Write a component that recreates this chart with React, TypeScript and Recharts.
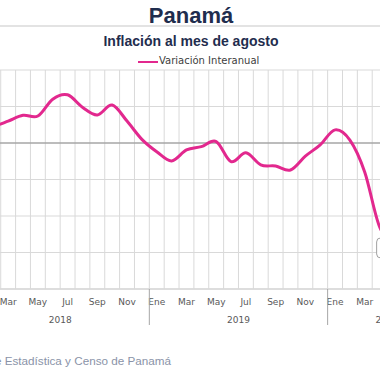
import React from 'react';
import { LineChart, Line, XAxis, YAxis, CartesianGrid, ReferenceLine, LabelList } from 'recharts';

const monthNames = ['Ene', 'Feb', 'Mar', 'Abr', 'May', 'Jun', 'Jul', 'Ago', 'Sep', 'Oct', 'Nov', 'Dic'];
const years = [
  { label: '2018', start: 0, end: 12 },
  { label: '2019', start: 12, end: 24 },
  { label: '2020', start: 24, end: 32 },
];
const values = [
  0.35, 0.45, 0.6, 0.76, 0.74, 1.2, 1.32, 0.98, 0.77, 1.04, 0.6, 0.1,
  -0.24, -0.49, -0.19, -0.1, 0.04, -0.51, -0.27, -0.6, -0.63, -0.74, -0.36, -0.05,
  0.36, 0.08, -0.8, -2.3, -2.7, -2.8, -2.6, -2.4,
];
const yTicks = [-4, -3, -2, -1, 0, 1, 2];
const labelledIndex = 27;

const data = values.map((v, i) => ({ pos: i + 0.5, v }));
const boundaries = Array.from({ length: 33 }, (_, i) => i);

const CHART_W = 486;
const MARGIN_R = 10.5;
const PLOT_W = CHART_W - MARGIN_R;
const BW = PLOT_W / 32;
const TXT = '#595959';
const FONT = '"DejaVu Sans", Verdana, sans-serif';

// Excel-like smoothed line (Catmull-Rom style Bezier through each point)
function smoothCurve(context: any) {
  let pts: number[][] = [];
  return {
    areaStart() {},
    areaEnd() {},
    lineStart() {
      pts = [];
    },
    point(x: number, y: number) {
      pts.push([+x, +y]);
    },
    lineEnd() {
      if (!pts.length) return;
      context.moveTo(pts[0][0], pts[0][1]);
      for (let i = 0; i < pts.length - 1; i++) {
        const p0 = pts[i - 1] || pts[i];
        const p1 = pts[i];
        const p2 = pts[i + 1];
        const p3 = pts[i + 2] || p2;
        const c1x = p1[0] + (p2[0] - p0[0]) / 6;
        const c1y = p1[1] + (p2[1] - p0[1]) / 6;
        const c2x = p2[0] - (p3[0] - p1[0]) / 6;
        const c2y = p2[1] - (p3[1] - p1[1]) / 6;
        context.bezierCurveTo(c1x, c1y, c2x, c2y, p2[0], p2[1]);
      }
    },
  };
}

const AxisTick = (props: any) => {
  const { x, y, payload } = props;
  const i = payload.value as number;
  const els: React.ReactNode[] = [];
  if (i < 32 && i % 2 === 0) {
    els.push(
      <text key="m" x={x + BW / 2} y={y + 16} textAnchor="middle" fontSize={9} fill={TXT} fontFamily={FONT}>
        {monthNames[i % 12]}
      </text>
    );
  }
  if (i % 12 === 0 && i < 32) {
    els.push(<line key="s" x1={x} x2={x} y1={y} y2={y + 36} stroke="#a6a6a6" strokeWidth={1} />);
  }
  years.forEach((yr) => {
    if ((yr.start + yr.end) / 2 === i) {
      els.push(
        <text key={'y' + yr.label} x={x} y={y + 34} textAnchor="middle" fontSize={9} fill={TXT} fontFamily={FONT}>
          {yr.label}
        </text>
      );
    }
  });
  return <g>{els}</g>;
};

const DataLabel = (props: any) => {
  const { x, y, index, value } = props;
  if (index !== labelledIndex) return null;
  return (
    <g>
      <rect x={x - 3} y={y + 11} width={34} height={20} rx={4} fill="#fff" stroke="#a0a0a0" strokeWidth={1} />
      <text x={x + 14} y={y + 25} textAnchor="middle" fontSize={9} fill={TXT} fontFamily={FONT}>
        {String(value).replace('.', ',')}
      </text>
    </g>
  );
};

export default function App() {
  return (
    <div style={{ position: 'absolute', left: 0, top: 0, width: 380, height: 380, overflow: 'hidden', background: '#fff' }}>
      <div
        style={{
          position: 'absolute', left: 0, top: 3, width: 382, textAlign: 'center',
          fontFamily: '"Liberation Sans", Arial, sans-serif', fontWeight: 'bold', fontSize: 22, color: '#1f2d4e', lineHeight: '26px',
        }}
      >
        Panamá
      </div>
      <div style={{ position: 'absolute', left: 0, top: 25, width: 380, height: 2, background: '#e3e3e3' }} />
      <div
        style={{
          position: 'absolute', left: 0, top: 32, width: 382, textAlign: 'center',
          fontFamily: '"Liberation Sans", Arial, sans-serif', fontWeight: 'bold', fontSize: 14, color: '#1f2d4e', lineHeight: '18px',
        }}
      >
        Inflación al mes de agosto
      </div>
      <div style={{ position: 'absolute', left: 138, top: 60.5, width: 20, height: 2.5, background: '#e2288e' }} />
      <div
        style={{
          position: 'absolute', left: 159, top: 55, fontFamily: FONT, fontSize: 10, color: '#404040', lineHeight: '12px', whiteSpace: 'nowrap',
        }}
      >
        Variación Interanual
      </div>
      <div style={{ position: 'absolute', left: -29.3, top: 0 }}>
        <LineChart width={CHART_W} height={334} data={data} margin={{ top: 70, right: MARGIN_R, bottom: 0, left: 0 }}>
          <CartesianGrid stroke="#d9d9d9" strokeWidth={1} />
          <XAxis
            type="number"
            dataKey="pos"
            domain={[0, 32]}
            ticks={boundaries}
            interval={0}
            height={45}
            tickSize={0}
            tickMargin={0}
            tickLine={false}
            axisLine={{ stroke: '#d9d9d9', strokeWidth: 1.5 }}
            tick={<AxisTick />}
            allowDataOverflow
          />
          <YAxis hide type="number" domain={[-4, 2]} ticks={yTicks} />
          <ReferenceLine y={0} stroke="#8c8c8c" strokeWidth={1} />
          <Line
            type={smoothCurve as any}
            dataKey="v"
            stroke="#e2288e"
            strokeWidth={3}
            dot={false}
            isAnimationActive={false}
          >
            <LabelList dataKey="v" content={<DataLabel />} />
          </Line>
        </LineChart>
      </div>
      <div
        style={{
          position: 'absolute', right: 209, top: 353, fontFamily: '"Liberation Sans", Arial, sans-serif', fontSize: 11.7,
          color: '#8a93a8', whiteSpace: 'nowrap', lineHeight: '15px',
        }}
      >
        Fuente: Instituto Nacional de Estadística y Censo de Panamá
      </div>
    </div>
  );
}
